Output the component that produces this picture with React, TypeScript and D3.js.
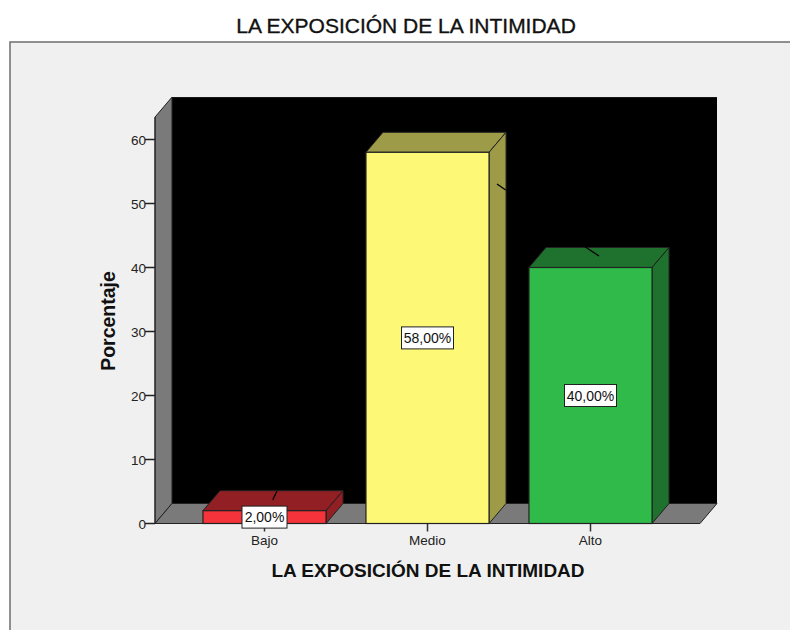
import React from "react";
import * as d3 from "d3";

const categories = ["Bajo", "Medio", "Alto"];
const values = [2, 58, 40];
const labels = ["2,00%", "58,00%", "40,00%"];
const yTicks = [0, 10, 20, 30, 40, 50, 60];
const fronts = ["#f4333b", "#fdf875", "#2fba4a"];
const tops = ["#921f23", "#9d9a48", "#1e722e"];
const chartTitle = "LA EXPOSICIÓN DE LA INTIMIDAD";
const yTitle = "Porcentaje";
const leaders: [number, number, number, number][] = [
  [272.7, 500, 277, 491],
  [497, 184, 505.7, 190],
  [585, 246.7, 599, 256],
];

const font = "'Liberation Sans', Arial, sans-serif";
const DX = 17;
const DY = -20;
const y = d3.scaleLinear().domain([0, 60]).range([523.5, 139.5]);
const x = d3.scaleBand<string>().domain(categories).range([183, 672]).paddingInner(0.245).paddingOuter(0.1225);
const Y_MAX = 63.5;
const LEFT = 155;
const RIGHT = 700;
const poly = (pts: [number, number][]) => pts.map((p) => p.join(",")).join(" ");

export default function App() {
  const y0 = y(0);
  const yTop = y(Y_MAX);
  return (
    <svg width={790} height={630} style={{ position: "absolute", left: 0, top: 0, background: "#fff" }}>
      <rect x={10} y={42} width={800} height={600} fill="#f0f0f0" stroke="#6e6e6e" strokeWidth={1.5} />
      <text x={406} y={33} textAnchor="middle" fontFamily={font} fontSize={21} fill="#111" stroke="#111" strokeWidth={0.35}>{chartTitle}</text>

      {/* back wall, side wall, floor */}
      <rect x={LEFT + DX} y={yTop + DY} width={RIGHT - LEFT} height={y0 - yTop} fill="#000" />
      <polygon points={poly([[LEFT, y0], [LEFT, yTop], [LEFT + DX, yTop + DY], [LEFT + DX, y0 + DY]])} fill="#7a7a7a" stroke="#222" strokeWidth={1} />
      <polygon points={poly([[LEFT, y0], [RIGHT, y0], [RIGHT + DX, y0 + DY], [LEFT + DX, y0 + DY]])} fill="#7a7a7a" stroke="#222" strokeWidth={1} />

      {/* y axis */}
      {yTicks.map((t) => (
        <g key={t}>
          <line x1={LEFT - 10} x2={LEFT} y1={y(t)} y2={y(t)} stroke="#222" strokeWidth={1.5} />
          <text x={LEFT - 9} y={y(t) + 5} textAnchor="end" fontFamily={font} fontSize={13.5} fill="#222">{t}</text>
        </g>
      ))}
      <line x1={LEFT} x2={LEFT} y1={yTop} y2={y0} stroke="#222" />
      <text transform="translate(115,321) rotate(-90)" textAnchor="middle" fontFamily={font} fontSize={19.5} fontWeight="bold" fill="#111">{yTitle}</text>

      {/* bars */}
      {categories.map((c, i) => {
        const l = x(c)!;
        const w = x.bandwidth();
        const r = l + w;
        const t = y(values[i]);
        return (
          <g key={c}>
            <line x1={(l + r) / 2} x2={(l + r) / 2} y1={y0} y2={y0 + 8} stroke="#333" strokeWidth={1.5} />
            <polygon points={poly([[l, t], [r, t], [r + DX, t + DY], [l + DX, t + DY]])} fill={tops[i]} stroke="#222" />
            <polygon points={poly([[r, t], [r + DX, t + DY], [r + DX, y0 + DY], [r, y0]])} fill={tops[i]} stroke="#222" />
            <rect x={l} y={t} width={w} height={y0 - t} fill={fronts[i]} stroke="#222" strokeWidth={1.2} />
            <text x={(l + r) / 2} y={545} textAnchor="middle" fontFamily={font} fontSize={13.5} fill="#222">{c}</text>
          </g>
        );
      })}
      {leaders.map((d, i) => (
        <line key={i} x1={d[0]} y1={d[1]} x2={d[2]} y2={d[3]} stroke="#000" strokeWidth={1.3} />
      ))}
      {/* value labels */}
      {categories.map((c, i) => {
        const cx = x(c)! + x.bandwidth() / 2;
        const cy = Math.min((y(values[i]) + y0) / 2, 517.5);
        const w = labels[i].length > 5 ? 52 : 45;
        return (
          <g key={c}>
            <rect x={cx - w / 2} y={cy - 11} width={w} height={22} fill="#fff" stroke="#222" strokeWidth={1} />
            <text x={cx} y={cy + 5} textAnchor="middle" fontFamily={font} fontSize={14} fill="#111">{labels[i]}</text>
          </g>
        );
      })}
      <text x={428} y={577} textAnchor="middle" fontFamily={font} fontSize={19} fontWeight="bold" fill="#111">{chartTitle}</text>
    </svg>
  );
}
